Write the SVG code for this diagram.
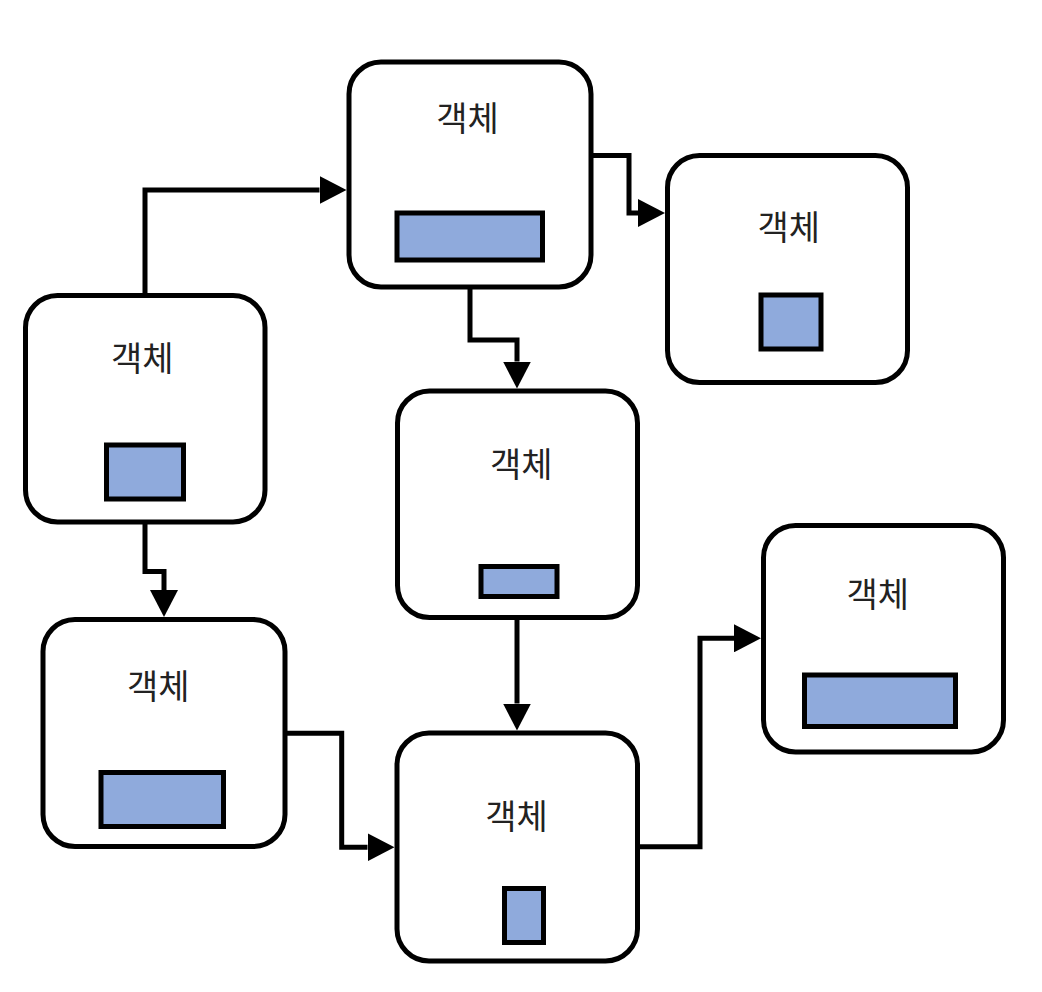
<svg xmlns="http://www.w3.org/2000/svg" width="1042" height="992" viewBox="0 0 1042 992">
<style>
.node{fill:#ffffff;stroke:#000000;stroke-width:5}
.inner{fill:#8FAADC;stroke:#000000;stroke-width:5}
.label{font-family:"Noto Sans CJK KR","Noto Sans",sans-serif;font-size:34px;fill:#222222;text-anchor:middle;dominant-baseline:central}
.conn{fill:none;stroke:#000000;stroke-width:5;stroke-linejoin:miter;marker-end:url(#arrow)}
</style>
<defs>
<marker id="arrow" markerUnits="userSpaceOnUse" markerWidth="27" markerHeight="28" viewBox="0 0 27 28" refX="0" refY="14" orient="auto">
<path d="M0,0 L27,14 L0,28 Z" fill="#000000"/>
</marker>
</defs>
<rect width="1042" height="992" fill="#ffffff"/>
<g id="connectors">
<path class="conn" d="M145,295.5 V190 H319.5"/>
<path class="conn" d="M590.5,155.5 H629 V213 H638"/>
<path class="conn" d="M470,287 V340 H517 V361.5"/>
<path class="conn" d="M145,522 V571.5 H164 V590"/>
<path class="conn" d="M517,617.5 V703.5"/>
<path class="conn" d="M285,733.3 H341.7 V847.3 H367.5"/>
<path class="conn" d="M637.7,846.7 H700 V638.3 H734"/>
</g>
<g id="node-top">
<rect class="node" x="349" y="62" width="242" height="225" rx="32" ry="32"/>
<text class="label" x="467.5" y="116.7">객체</text>
<rect class="inner" x="397" y="213" width="145.5" height="47"/>
</g>
<g id="node-top-right">
<rect class="node" x="667.5" y="155.5" width="240" height="227" rx="32" ry="32"/>
<text class="label" x="788.7" y="225">객체</text>
<rect class="inner" x="761" y="295" width="60" height="54"/>
</g>
<g id="node-left">
<rect class="node" x="25.5" y="295.5" width="239.5" height="226.5" rx="32" ry="32"/>
<text class="label" x="142.3" y="356.7">객체</text>
<rect class="inner" x="106.5" y="445" width="77" height="54"/>
</g>
<g id="node-middle">
<rect class="node" x="397.5" y="391" width="240" height="226.5" rx="32" ry="32"/>
<text class="label" x="521.3" y="462">객체</text>
<rect class="inner" x="481" y="566.5" width="76" height="30"/>
</g>
<g id="node-bottom-left">
<rect class="node" x="43" y="619.5" width="242" height="227" rx="32" ry="32"/>
<text class="label" x="158.3" y="684.7">객체</text>
<rect class="inner" x="101" y="772.5" width="122.5" height="54"/>
</g>
<g id="node-bottom-right">
<rect class="node" x="763.5" y="525.5" width="240" height="226.5" rx="32" ry="32"/>
<text class="label" x="877.7" y="592.5">객체</text>
<rect class="inner" x="804.5" y="675" width="151" height="51.5"/>
</g>
<g id="node-bottom-center">
<rect class="node" x="397" y="733" width="240.5" height="228" rx="32" ry="32"/>
<text class="label" x="516.5" y="814">객체</text>
<rect class="inner" x="504.5" y="888.5" width="39" height="54"/>
</g>
</svg>
